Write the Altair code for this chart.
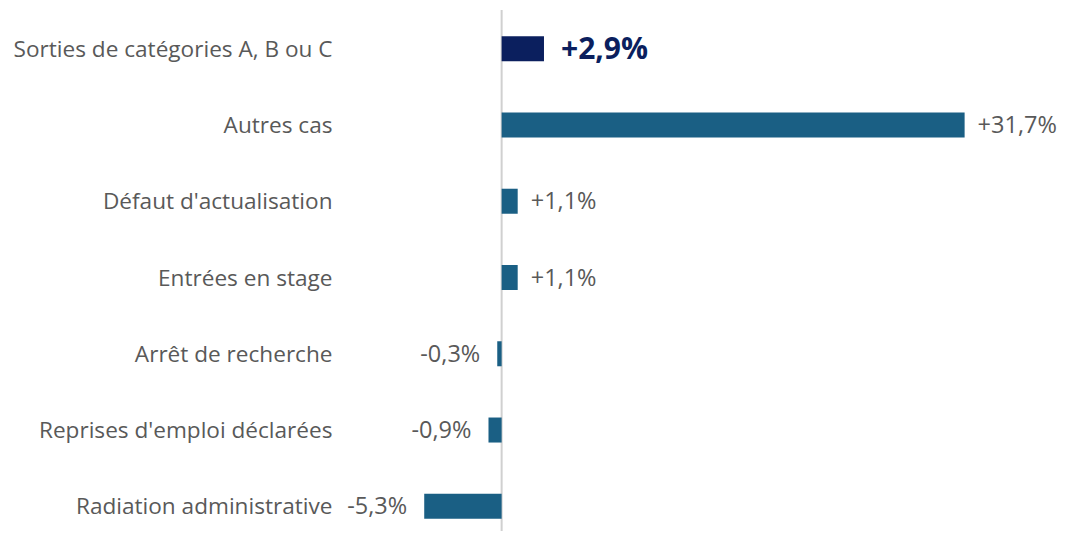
import altair as alt
import pandas as pd

categories = [
    "Sorties de catégories A, B ou C",
    "Autres cas",
    "Défaut d'actualisation",
    "Entrées en stage",
    "Arrêt de recherche",
    "Reprises d'emploi déclarées",
    "Radiation administrative",
]
values = [2.9, 31.7, 1.1, 1.1, -0.3, -0.9, -5.3]
labels = ["+2,9%", "+31,7%", "+1,1%", "+1,1%", "-0,3%", "-0,9%", "-5,3%"]
highlight = [True, False, False, False, False, False, False]

df = pd.DataFrame({"cat": categories, "val": values, "lab": labels, "hl": highlight})

W, H = 555, 507
FONT = "Open Sans"
GRAY = "#595959"
NAVY = "#0b1f5e"
TEAL = "#1a5f84"

y_enc = alt.Y(
    "cat:N",
    sort=categories,
    scale=alt.Scale(paddingInner=0.672, paddingOuter=0.16),
    axis=alt.Axis(
        title=None, domain=False, ticks=False, labelPadding=82,
        labelFont=FONT, labelFontSize=22.6, labelColor=GRAY, labelLimit=420,
        labelBaseline="middle", labelOffset=1,
    ),
)
x_enc = alt.X("val:Q", scale=alt.Scale(domain=[-6, 32], nice=False, zero=False), axis=None)

base = alt.Chart(df)

bars = base.mark_bar().encode(
    x=x_enc,
    x2=alt.datum(0),
    y=y_enc,
    color=alt.condition("datum.hl", alt.value(NAVY), alt.value(TEAL)),
)

zero = alt.Chart(pd.DataFrame({"z": [0]})).mark_rule(color="#d0d0d0", strokeWidth=2).encode(
    x=alt.X("z:Q", scale=alt.Scale(domain=[-6, 32], nice=False, zero=False), axis=None),
    y=alt.value(-14),
    y2=alt.value(H + 20),
)

pos_txt = base.transform_filter("datum.val >= 0 && !datum.hl").mark_text(
    align="left", baseline="middle", dx=13, dy=1, font=FONT, fontSize=23.5, color=GRAY
).encode(x=x_enc, y=y_enc, text="lab:N")

neg_txt = base.transform_filter("datum.val < 0").mark_text(
    align="right", baseline="middle", dx=-17, dy=1, font=FONT, fontSize=23.5, color=GRAY
).encode(x=x_enc, y=y_enc, text="lab:N")

hl_txt = base.transform_filter("datum.hl").mark_text(
    align="left", baseline="middle", dx=17, dy=1, font=FONT, fontSize=30, fontWeight="bold", color=NAVY
).encode(x=x_enc, y=y_enc, text="lab:N")

chart = (
    alt.layer(zero, bars, pos_txt, neg_txt, hl_txt)
    .properties(
        width=W, height=H,
        autosize=alt.AutoSizeParams(type="none"),
        padding={"left": 406, "top": 16, "right": 91, "bottom": 0},
    )
    .configure_view(stroke=None)
)

chart.save("out.html", embed_options={"renderer": "svg", "actions": False})
